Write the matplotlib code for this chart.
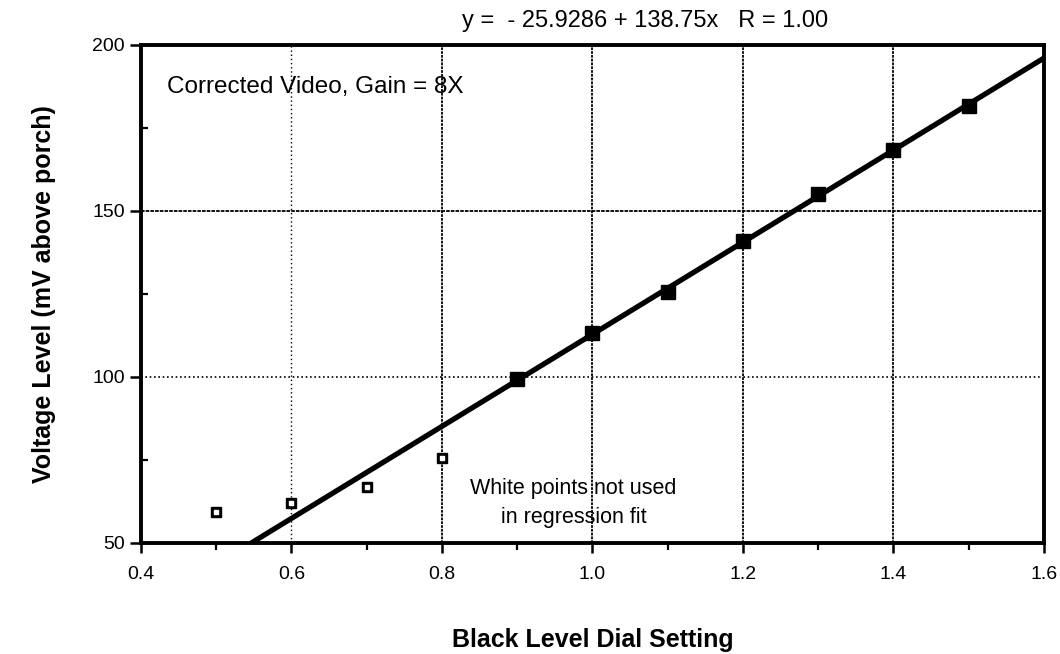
import matplotlib
matplotlib.use("Agg")
import matplotlib.pyplot as plt
import numpy as np
from matplotlib.ticker import MultipleLocator

plt.rcParams['font.family'] = ['Liberation Sans', 'DejaVu Sans']

# Dial settings and measured levels (mV above porch)
fit_x = [0.9, 1.0, 1.1, 1.2, 1.3, 1.4, 1.5]
fit_y = [99.2, 113.1, 125.6, 141.0, 155.0, 168.4, 181.5]
excluded_x = [0.5, 0.6, 0.7, 0.8]
excluded_y = [59.3, 61.9, 66.9, 75.6]

# Regression coefficients quoted in the title
intercept = -25.9286
slope = 138.75
r_value = 1.00

x_ticks = [0.4, 0.6, 0.8, 1.0, 1.2, 1.4, 1.6]
y_ticks = [50, 100, 150, 200]

fig = plt.figure(figsize=(10.6, 6.54), dpi=100)
ax = fig.add_axes([0.1330, 0.1702, 0.8519, 0.7610])
ax.set_xlim(0.4, 1.6)
ax.set_ylim(50, 200)

# grid
for gx in x_ticks[1:-1]:
    ls = (0, (1, 2)) if gx < 0.7 else (0, (1.5, 0.6))
    lw = 1.0 if gx < 0.7 else 1.3
    ax.axvline(gx, color='black', lw=lw, ls=ls, zorder=1)
ax.axhline(100, color='black', lw=1.2, ls=(0, (1, 1.6)), zorder=1)
ax.axhline(150, color='black', lw=1.3, ls=(0, (2, 0.6)), zorder=1)

# regression line
xl = np.linspace(0.4, 1.6, 200)
ax.plot(xl, intercept + slope * xl, color='black', lw=3.8, zorder=3,
        solid_capstyle='butt')

ax.plot(fit_x, fit_y, ls='none', marker='s', ms=10, color='black', zorder=4)
ax.plot(excluded_x, excluded_y, ls='none', marker='s', ms=7.5,
        markerfacecolor='black', markeredgecolor='black', zorder=4)
ax.plot(excluded_x, excluded_y, ls='none', marker='s', ms=2.2,
        markerfacecolor='white', markeredgecolor='white', zorder=5)

for s in ax.spines.values():
    s.set_linewidth(2.8)

ax.set_xticks(x_ticks)
ax.set_xticklabels([f"{v:.1f}" for v in x_ticks])
ax.set_yticks(y_ticks)
ax.xaxis.set_minor_locator(MultipleLocator(0.1))
ax.yaxis.set_minor_locator(MultipleLocator(25))
ax.tick_params(axis='x', which='major', direction='out', length=7, width=1.8,
               labelsize=14, pad=10)
ax.tick_params(axis='y', which='major', direction='out', length=8, width=1.8,
               labelsize=14, pad=3.5)
ax.tick_params(axis='x', which='minor', direction='out', length=5, width=1.6)
ax.tick_params(axis='y', which='minor', direction='in', length=5, width=1.6)

fig.text(645 / 1060, 1 - 21 / 654,
         f"y =  - {abs(intercept):.4f} + {slope:.2f}x   R = {r_value:.2f}",
         fontsize=17, ha='center', va='center')
ax.set_xlabel("Black Level Dial Setting", fontsize=18, fontweight='bold',
              labelpad=32)
ax.set_ylabel("Voltage Level (mV above porch)", fontsize=18, fontweight='bold',
              labelpad=26)

ax.text(0.434, 187.3, "Corrected Video, Gain = 8X", fontsize=17.5, va='center')
ax.text(0.975, 66.2, "White points not used", fontsize=15.5, ha='center', va='center')
ax.text(0.975, 57.7, "in regression fit", fontsize=15.5, ha='center', va='center')

fig.savefig("out.png", dpi=100)
